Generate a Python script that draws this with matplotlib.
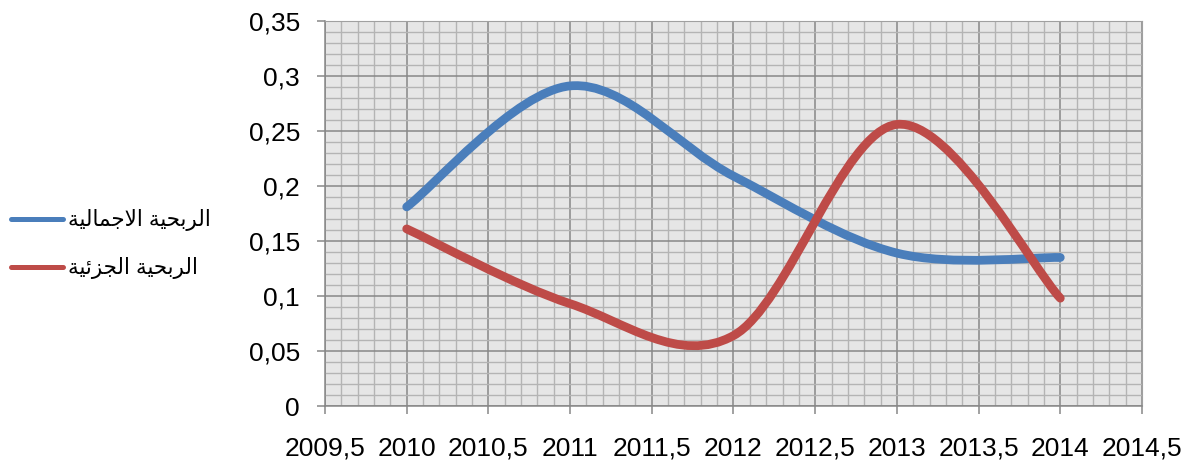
import matplotlib
matplotlib.use("Agg")
import matplotlib.pyplot as plt
from matplotlib.path import Path
from matplotlib.patches import PathPatch
from matplotlib.lines import Line2D
from matplotlib.ticker import MultipleLocator, FuncFormatter

# ---- data ----
years = [2010, 2011, 2012, 2013, 2014]
total_profitability = [0.181, 0.291, 0.209, 0.139, 0.135]
partial_profitability = [0.161, 0.093, 0.064, 0.256, 0.098]
series_names = ["الربحية الاجمالية", "الربحية الجزئية"]
series_colors = ["#4a7ebb", "#be4b48"]

# ---- minimal Arabic shaping (contextual forms + lam-alef) ----
FORMS = {  # isolated, final, initial, medial
    "ا": ("\uFE8D", "\uFE8E", None, None),
    "ل": ("\uFEDD", "\uFEDE", "\uFEDF", "\uFEE0"),
    "ر": ("\uFEAD", "\uFEAE", None, None),
    "ب": ("\uFE8F", "\uFE90", "\uFE91", "\uFE92"),
    "ح": ("\uFEA1", "\uFEA2", "\uFEA3", "\uFEA4"),
    "ي": ("\uFEF1", "\uFEF2", "\uFEF3", "\uFEF4"),
    "ة": ("\uFE93", "\uFE94", None, None),
    "ج": ("\uFE9D", "\uFE9E", "\uFE9F", "\uFEA0"),
    "م": ("\uFEE1", "\uFEE2", "\uFEE3", "\uFEE4"),
    "ز": ("\uFEAF", "\uFEB0", None, None),
    "ئ": ("\uFE89", "\uFE8A", "\uFE8B", "\uFE8C"),
    "لا": ("\uFEFB", "\uFEFC", None, None),
}


def shape_arabic(text):
    units = []
    i = 0
    while i < len(text):
        if text[i] == "ل" and i + 1 < len(text) and text[i + 1] == "ا":
            units.append("لا")
            i += 2
        else:
            units.append(text[i])
            i += 1

    def joins_left(u):
        return u in FORMS and FORMS[u][2] is not None

    out = []
    for k, u in enumerate(units):
        if u not in FORMS:
            out.append(u)
            continue
        prev_j = k > 0 and joins_left(units[k - 1])
        next_j = k + 1 < len(units) and units[k + 1] in FORMS
        iso, fin, ini, med = FORMS[u]
        if prev_j and next_j and med:
            out.append(med)
        elif prev_j:
            out.append(fin)
        elif next_j and ini:
            out.append(ini)
        else:
            out.append(iso)
    return "".join(out)[::-1]


def smooth_path(xs, ys):
    """Cubic Bezier through the points, tangents from neighbouring points."""
    pts = list(zip(xs, ys))
    n = len(pts)
    verts = [pts[0]]
    codes = [Path.MOVETO]
    for i in range(n - 1):
        p0 = pts[i - 1] if i > 0 else pts[i]
        p1 = pts[i]
        p2 = pts[i + 1]
        p3 = pts[i + 2] if i + 2 < n else pts[i + 1]
        c1 = (p1[0] + (p2[0] - p0[0]) / 6, p1[1] + (p2[1] - p0[1]) / 6)
        c2 = (p2[0] - (p3[0] - p1[0]) / 6, p2[1] - (p3[1] - p1[1]) / 6)
        verts += [c1, c2, p2]
        codes += [Path.CURVE4] * 3
    return Path(verts, codes)


plt.rcParams["font.family"] = ["Liberation Sans", "DejaVu Sans"]

W, H = 1186, 463
fig = plt.figure(figsize=(W / 100, H / 100), dpi=100)
ax = fig.add_axes([325 / W, 1 - 406 / H, (1142 - 325) / W, (406 - 21) / H])

ax.set_facecolor("#e6e6e6")
ax.set_xlim(2009.5, 2014.5)
ax.set_ylim(0, 0.35)
ax.xaxis.set_major_locator(MultipleLocator(0.5))
ax.xaxis.set_minor_locator(MultipleLocator(0.1))
ax.yaxis.set_major_locator(MultipleLocator(0.05))
ax.yaxis.set_minor_locator(MultipleLocator(0.01))


def comma_fmt(v, pos):
    s = f"{v:.2f}".rstrip("0").rstrip(".")
    return s.replace(".", ",")


ax.xaxis.set_major_formatter(FuncFormatter(comma_fmt))
ax.yaxis.set_major_formatter(FuncFormatter(comma_fmt))

ax.grid(which="minor", color="#b4b4b4", linewidth=1.0)
ax.grid(which="major", color="#878787", linewidth=1.1)
ax.set_axisbelow(True)

for side in ["top", "right"]:
    ax.spines[side].set_color("#a0a0a0")
for side in ["left", "bottom"]:
    ax.spines[side].set_color("#878787")
    ax.spines[side].set_linewidth(1.1)

ax.tick_params(which="major", length=6, width=1.1, color="#878787",
               labelsize=19, direction="out")
ax.tick_params(axis="x", which="major", pad=16)
ax.tick_params(axis="y", which="major", pad=12)
ax.tick_params(which="minor", length=0)

for ys, col in zip([total_profitability, partial_profitability], series_colors):
    patch = PathPatch(smooth_path(years, ys), facecolor="none", edgecolor=col,
                      linewidth=6.3, capstyle="round", joinstyle="round",
                      zorder=3)
    ax.add_patch(patch)

handles = [Line2D([], [], color=c, linewidth=3.6, solid_capstyle="round")
           for c in series_colors]
fig.legend(handles, [shape_arabic(s) for s in series_names],
           loc="upper left", bbox_to_anchor=(-8 / W, 1 - 190 / H),
           frameon=False, fontsize=15.5, handlelength=2.4,
           handletextpad=0.25, labelspacing=1.2)

fig.savefig("out.png", dpi=100)
